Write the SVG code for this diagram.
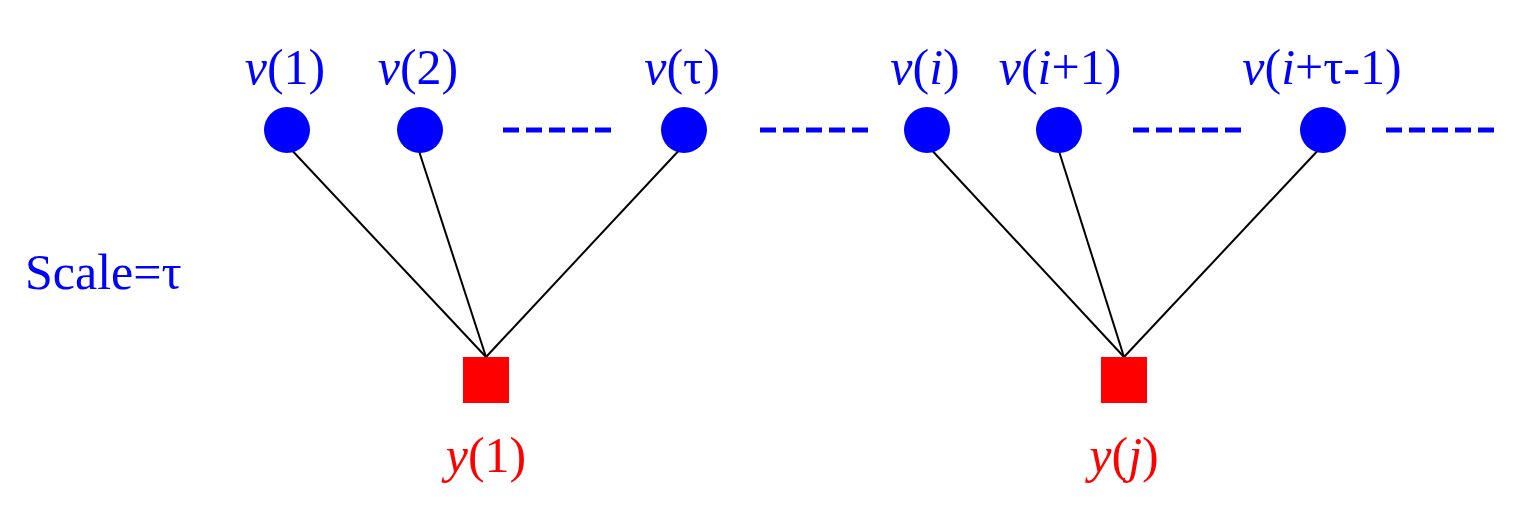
<svg xmlns="http://www.w3.org/2000/svg" width="1536" height="512" viewBox="0 0 1536 512">
<style>
.b{fill:#0000ff}.r{fill:#ff0000}
.t{font-family:"Liberation Serif",serif;font-size:50px;text-anchor:middle}
.d{stroke:#0000ff;stroke-width:5;stroke-dasharray:16,7}
.e{stroke:#000;stroke-width:2}
</style>
<rect width="1536" height="512" fill="#fff"/>
<g id="connectors">
<line class="e" x1="287" y1="145" x2="486" y2="357"/>
<line class="e" x1="418" y1="148" x2="486" y2="357"/>
<line class="e" x1="684" y1="145" x2="486" y2="357"/>
<line class="e" x1="927" y1="145" x2="1124" y2="357"/>
<line class="e" x1="1058" y1="148" x2="1124" y2="357"/>
<line class="e" x1="1323" y1="145" x2="1124" y2="357"/>
<line class="d" x1="503" y1="130" x2="611" y2="130"/>
<line class="d" x1="760" y1="130" x2="868" y2="130"/>
<line class="d" x1="1133" y1="130" x2="1241" y2="130"/>
<line class="d" x1="1386" y1="130" x2="1494" y2="130"/>
</g>
<g id="v1"><circle class="b" cx="287" cy="130" r="23"/><text class="t b" x="285" y="84"><tspan font-style="italic">v</tspan>(1)</text></g>
<g id="v2"><circle class="b" cx="420" cy="130" r="23"/><text class="t b" x="418" y="84"><tspan font-style="italic">v</tspan>(2)</text></g>
<g id="vtau"><circle class="b" cx="684" cy="130" r="23"/><text class="t b" x="682" y="84"><tspan font-style="italic">v</tspan>(τ)</text></g>
<g id="vi"><circle class="b" cx="927" cy="130" r="23"/><text class="t b" x="925" y="84"><tspan font-style="italic">v</tspan>(<tspan font-style="italic">i</tspan>)</text></g>
<g id="vi1"><circle class="b" cx="1059" cy="130" r="23"/><text class="t b" x="1060" y="84"><tspan font-style="italic">v</tspan>(<tspan font-style="italic">i</tspan>+1)</text></g>
<g id="vit"><circle class="b" cx="1323" cy="130" r="23"/><text class="t b" x="1322" y="84"><tspan font-style="italic">v</tspan>(<tspan font-style="italic">i</tspan>+τ-1)</text></g>
<g id="scale"><text class="t b" x="25" y="289" style="text-anchor:start">Scale=τ</text></g>
<g id="y1"><rect class="r" x="463" y="357" width="46" height="46"/><text class="t r" x="486" y="472"><tspan font-style="italic">y</tspan>(1)</text></g>
<g id="yj"><rect class="r" x="1101" y="357" width="46" height="46"/><text class="t r" x="1124" y="472"><tspan font-style="italic">y</tspan>(<tspan font-style="italic">j</tspan>)</text></g>
</svg>
